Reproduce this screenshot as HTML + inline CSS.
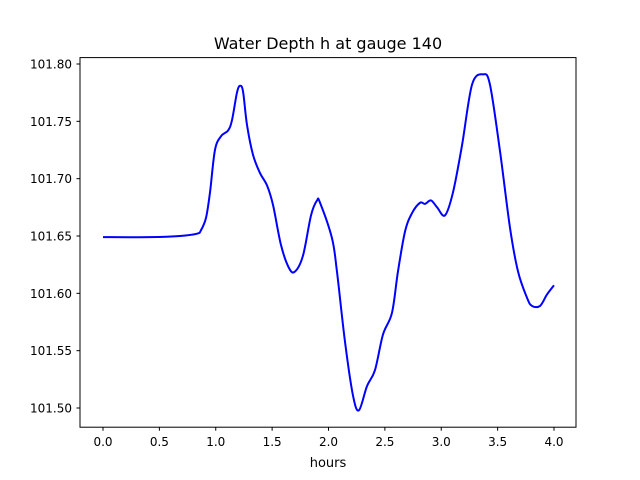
<!DOCTYPE html>
<html><head><meta charset="utf-8"><style>
html,body{margin:0;padding:0;background:#fff;}
svg{display:block;font-family:"DejaVu Sans","Liberation Sans",sans-serif;}
</style></head><body>
<svg id="chart" width="640" height="480" xmlns="http://www.w3.org/2000/svg">
<rect width="640" height="480" fill="#fff"/>
<text x="328" y="49" text-anchor="middle" font-size="16">Water Depth h at gauge 140</text>
<g id="xticks"></g>
<g id="yticks"></g>
<path id="line" fill="none" stroke="#0000ff" stroke-width="2"/>
<rect x="80" y="57.6" width="496" height="369.6" fill="none" stroke="#000" stroke-width="1"/>
<text x="328" y="467" text-anchor="middle" font-size="13">hours</text>
</svg>
<script>
const hours = [0,0.417,0.683,0.834,0.869,0.914,0.949,0.993,1.047,1.109,1.144,1.188,1.215,1.242,1.277,1.330,1.392,1.455,1.508,1.579,1.650,1.703,1.774,1.845,1.898,1.925,2.031,2.075,2.146,2.217,2.270,2.341,2.412,2.483,2.563,2.616,2.679,2.741,2.812,2.856,2.909,2.963,3.033,3.104,3.184,3.273,3.370,3.432,3.521,3.610,3.681,3.761,3.805,3.876,3.938,4.0];
const depth = [101.649,101.649,101.650,101.652,101.655,101.666,101.688,101.725,101.737,101.742,101.751,101.775,101.781,101.776,101.747,101.721,101.705,101.694,101.677,101.642,101.622,101.619,101.633,101.668,101.681,101.679,101.648,101.619,101.558,101.511,101.498,101.519,101.533,101.564,101.583,101.619,101.654,101.670,101.679,101.678,101.681,101.675,101.668,101.688,101.729,101.782,101.791,101.782,101.724,101.657,101.619,101.596,101.589,101.589,101.599,101.607];
const xTickVals = [0,0.5,1,1.5,2,2.5,3,3.5,4];
const xTickLabels = ["0.0","0.5","1.0","1.5","2.0","2.5","3.0","3.5","4.0"];
const yTickVals = [101.5,101.55,101.6,101.65,101.7,101.75,101.8];
const yTickLabels = ["101.50","101.55","101.60","101.65","101.70","101.75","101.80"];
const NS="http://www.w3.org/2000/svg";
const xs = v => 103 + (v-0)*112.75;
const ys = v => 408 - (v-101.5)*(344/0.3);
const xg=document.getElementById('xticks'), yg=document.getElementById('yticks');
xTickVals.forEach((v,i)=>{
  const l=document.createElementNS(NS,'line');
  
  
  l.setAttribute('x1',xs(v));l.setAttribute('x2',xs(v));l.setAttribute('y1',427.2);l.setAttribute('y2',430.7);l.setAttribute('stroke','#000');
  xg.appendChild(l);
  const t=document.createElementNS(NS,'text');
  
  
  t.setAttribute('x',xs(v));t.setAttribute('y',446);t.setAttribute('text-anchor','middle');t.setAttribute('font-size','12');
  t.textContent=xTickLabels[i];xg.appendChild(t);
});
yTickVals.forEach((v,i)=>{
  const l=document.createElementNS(NS,'line');
  
  
  l.setAttribute('x1',76.5);l.setAttribute('x2',80);l.setAttribute('y1',ys(v));l.setAttribute('y2',ys(v));l.setAttribute('stroke','#000');
  yg.appendChild(l);
  const t=document.createElementNS(NS,'text');
  
  
  t.setAttribute('x',72);t.setAttribute('y',ys(v)+4.5);t.setAttribute('text-anchor','end');t.setAttribute('font-size','12');
  t.textContent=yTickLabels[i];yg.appendChild(t);
});
const P=hours.map((h,i)=>[xs(h),ys(depth[i])]);
let d='M'+P[0][0]+','+P[0][1];
for(let i=0;i<P.length-1;i++){
  const p0=P[Math.max(0,i-1)],p1=P[i],p2=P[i+1],p3=P[Math.min(P.length-1,i+2)];
  const c1=[p1[0]+(p2[0]-p0[0])/6,p1[1]+(p2[1]-p0[1])/6];
  const c2=[p2[0]-(p3[0]-p1[0])/6,p2[1]-(p3[1]-p1[1])/6];
  d+=' C'+c1[0]+','+c1[1]+' '+c2[0]+','+c2[1]+' '+p2[0]+','+p2[1];
}
document.getElementById('line').setAttribute('d',d);
</script>
</body></html>
